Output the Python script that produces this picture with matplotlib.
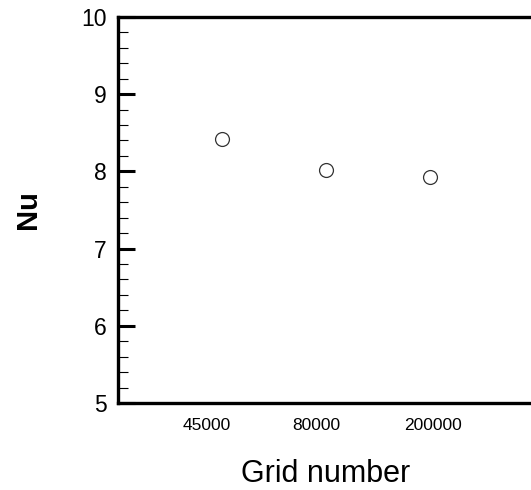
import numpy as np
import matplotlib.pyplot as plt
import matplotlib.transforms as mtransforms

plt.rcParams['font.family'] = ['Liberation Sans', 'DejaVu Sans']

grids = ["45000", "80000", "200000"]
nu = [8.42, 8.02, 7.93]

fig = plt.figure(figsize=(5.31, 4.90), dpi=100)
ax = fig.add_axes([0.222, 0.1776, 0.783, 0.7878])

x = np.arange(1, len(grids) + 1)
ax.plot(x, nu, 'o', markersize=10, markerfacecolor='white',
        markeredgecolor='#333333', markeredgewidth=0.9)

ax.set_xlim(0, 4)
ax.set_ylim(5, 10)
ax.set_xticks(x)
ax.set_xticklabels([])
ax.set_yticks(range(5, 11))
ax.set_yticks(np.arange(5, 10.01, 0.2), minor=True)

# category labels, nudged a little like in the original
label_shift = [-15, -9, 3]
base = mtransforms.blended_transform_factory(ax.transData, ax.transAxes)
for xi, name, dx in zip(x, grids, label_shift):
    tr = base + mtransforms.ScaledTranslation(dx / 100, -23 / 100, fig.dpi_scale_trans)
    ax.text(xi, 0, name, transform=tr, ha='center', va='center', fontsize=12.5)

for s in ax.spines.values():
    s.set_linewidth(2.4)

ax.tick_params(axis='x', length=0, pad=10)
ax.tick_params(axis='y', which='major', direction='in', length=12.5, width=2.2,
               labelsize=16.5, pad=8)
ax.tick_params(axis='y', which='minor', direction='in', length=7, width=0.8)

ax.set_xlabel("Grid number", fontsize=22)
ax.xaxis.set_label_coords(0.5, -0.145)
ax.set_ylabel("Nu", fontsize=21, fontweight='bold', labelpad=28)

fig.savefig("out.png", dpi=100)
